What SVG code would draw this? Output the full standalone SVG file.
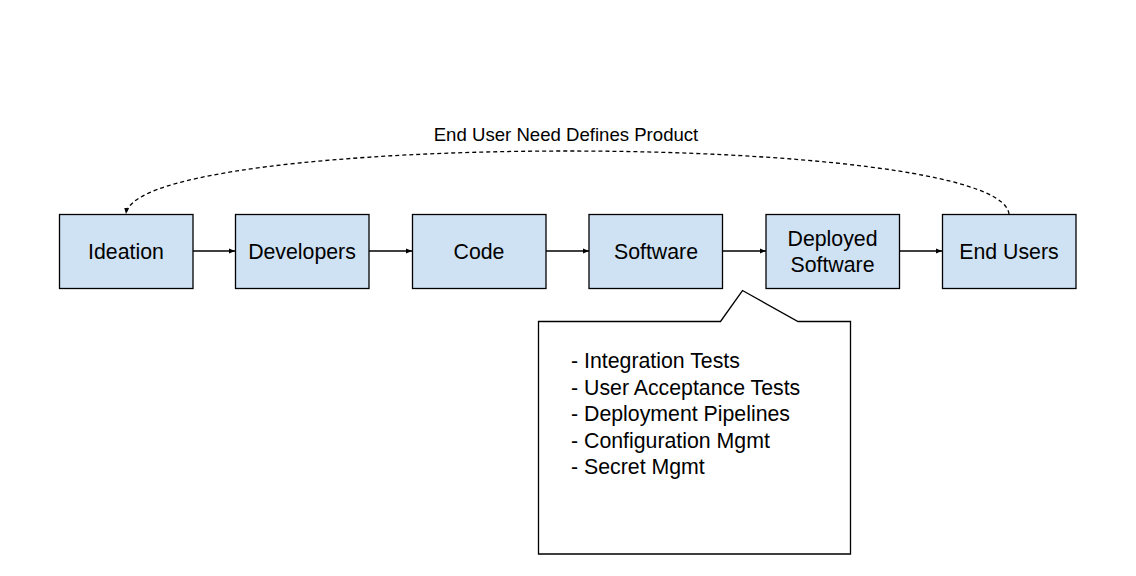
<svg xmlns="http://www.w3.org/2000/svg" width="1136" height="576" viewBox="0 0 1136 576">
<style>
.box{fill:#cfe2f3;stroke:#000;stroke-width:1.3}
.lbl{font-family:"Liberation Sans",Arial,sans-serif;font-size:21.3px;fill:#000;text-anchor:middle}
.conn{stroke:#000;stroke-width:1.3;fill:none}
.note{font-family:"Liberation Sans",Arial,sans-serif;font-size:21.3px;fill:#000}
</style>
<defs>
<marker id="ah" viewBox="0 0 10 10" refX="10" refY="5" markerWidth="6" markerHeight="6" markerUnits="userSpaceOnUse" orient="auto">
<path d="M0,1 L10,5 L0,9 Z" fill="#000"/>
</marker>
</defs>
<rect width="1136" height="576" fill="#fff"/>
<g id="connectors">
<line class="conn" x1="193" y1="251" x2="235" y2="251" marker-end="url(#ah)"/>
<line class="conn" x1="369" y1="251" x2="412" y2="251" marker-end="url(#ah)"/>
<line class="conn" x1="546" y1="251" x2="589" y2="251" marker-end="url(#ah)"/>
<line class="conn" x1="722" y1="251" x2="766" y2="251" marker-end="url(#ah)"/>
<line class="conn" x1="899" y1="251" x2="942" y2="251" marker-end="url(#ah)"/>
<path class="conn" d="M1009,214 C1000,130 135,130 126,214" stroke-dasharray="4,3" marker-end="url(#ah)"/>
<text x="566" y="141" style="font-family:'Liberation Sans',Arial,sans-serif;font-size:18.6px;fill:#000;text-anchor:middle">End User Need Defines Product</text>
</g>
<g id="ideation"><rect class="box" x="59.5" y="214.5" width="133.5" height="74"/><text class="lbl" x="126" y="259">Ideation</text></g>
<g id="developers"><rect class="box" x="235.5" y="214.5" width="133.5" height="74"/><text class="lbl" x="302" y="259">Developers</text></g>
<g id="code"><rect class="box" x="412.5" y="214.5" width="133.5" height="74"/><text class="lbl" x="479" y="259">Code</text></g>
<g id="software"><rect class="box" x="589" y="214.5" width="133.5" height="74"/><text class="lbl" x="656" y="259">Software</text></g>
<g id="deployed-software"><rect class="box" x="766" y="214.5" width="133.5" height="74"/><text class="lbl" x="832.5" y="246">Deployed</text><text class="lbl" x="832.5" y="272">Software</text></g>
<g id="end-users"><rect class="box" x="942.5" y="214.5" width="133.5" height="74"/><text class="lbl" x="1009" y="259">End Users</text></g>
<g id="callout">
<path d="M538.5,321.5 L720.5,321.5 L742.5,290.5 L798,321.5 L850.5,321.5 L850.5,554 L538.5,554 Z" fill="#fff" stroke="#000" stroke-width="1.3"/>
<text class="note" x="571" y="368">- Integration Tests</text>
<text class="note" x="571" y="394.5">- User Acceptance Tests</text>
<text class="note" x="571" y="421">- Deployment Pipelines</text>
<text class="note" x="571" y="447.5">- Configuration Mgmt</text>
<text class="note" x="571" y="474">- Secret Mgmt</text>
</g>
</svg>
